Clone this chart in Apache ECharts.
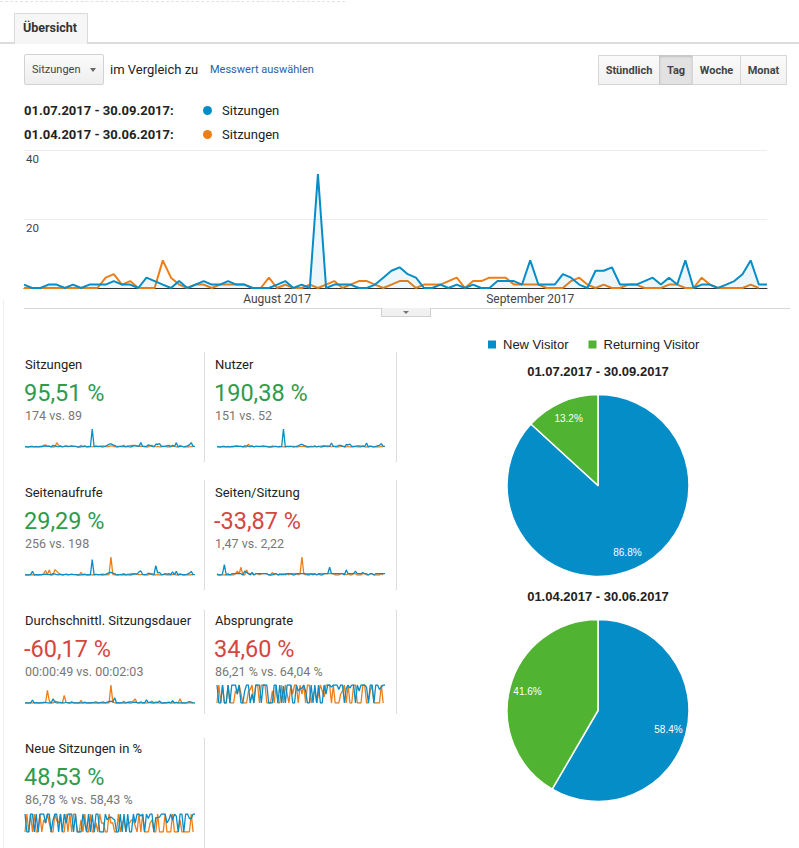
<!DOCTYPE html>
<html><head><meta charset="utf-8">
<script src="https://cdn.jsdelivr.net/npm/echarts@6/dist/echarts.min.js"></script>
<style>
html,body{margin:0;padding:0;background:#fff;}
body{width:799px;height:848px;position:relative;overflow:hidden;font-family:Roboto,'Liberation Sans',Arial,sans-serif;color:#222;}
#chart{position:absolute;left:0;top:0;width:799px;height:848px;}
.a{position:absolute;white-space:nowrap;}
.btn{position:absolute;top:55px;height:30px;line-height:30px;text-align:center;font-size:11px;font-weight:bold;color:#444;background:linear-gradient(#fafafa,#f1f1f1);border:1px solid #d6d6d6;box-sizing:border-box;}
</style></head><body>
<div id="chart"></div>
<div id="ui"></div>
<script>
// ---------- data ----------
const dayCount = 92;
const monthTicks = ['August 2017', 'September 2017'];
const monthTickDays = [31, 62];
const yTicks = [0, 20, 40];

const sessionsCur = [1,0,0,1,1,0,1,0,1,1, 1,2,1,1,0,3,2,1,0,2, 0,1,2,1,1,2,1,1,0,0, 0,1,2,0,1,0,33,0,1,1,
  1,0,0,1,3,5,6,4,3,0, 0,1,0,1,0,1,0,0,2,2, 2,1,8,1,1,1,4,3,1,0, 5,5,6,1,1,1,2,3,1,3, 1,8,0,1,1,0,1,2,4,8, 1,1];
const sessionsPrev = [0,0,0,0,0,0,0,0,0,0, 3,4,1,2,0,0,0,8,3,1, 0,1,1,0,1,1,1,1,0,0, 3,0,1,0,0,1,0,1,2,0,
  1,2,2,1,0,1,2,2,0,1, 1,1,2,3,0,2,2,3,3,3, 1,1,1,1,0,0,0,2,3,1, 0,1,0,0,1,1,0,0,0,1, 1,0,0,3,1,0,0,0,0,1, 0];

const usersCur = [1,0,0,1,1,0,1,0,1,1, 1,1,1,1,0,2,2,1,0,2, 0,1,1,1,1,2,1,1,0,0, 0,1,1,0,1,0,32,0,1,1,
  1,0,0,1,2,4,5,3,2,0, 0,1,0,1,0,1,0,0,2,1, 2,1,7,1,1,1,3,3,1,0, 4,4,5,1,1,1,2,2,1,2, 1,7,0,1,1,0,1,2,3,6, 1,1];
const usersPrev = [0,0,0,0,0,0,0,0,0,0, 2,2,1,1,0,0,0,5,2,1, 0,1,1,0,1,0,1,0,0,0, 2,0,1,0,0,1,0,0,1,0,
  1,1,1,0,0,1,1,1,0,0, 1,0,1,2,0,1,1,2,2,1, 0,1,0,1,0,0,0,1,2,0, 0,1,0,0,0,1,0,0,0,1, 0,0,0,2,0,0,0,0,0,1, 0];

const pageviewsCur = [1,0,0,1,8,0,1,0,1,1, 1,2,1,1,0,3,2,1,0,2, 0,1,2,1,1,2,1,1,0,0, 0,1,2,0,1,0,34,0,1,1,
  1,0,0,1,3,5,6,4,3,0, 0,1,0,1,0,1,0,0,2,2, 2,7,9,1,1,1,4,3,1,0, 21,5,6,1,1,3,2,3,1,7, 1,8,0,1,1,0,1,2,4,8, 1,1];
const pageviewsPrev = [0,0,0,0,0,0,0,0,0,0, 3,10,1,11,0,0,12,8,4,1, 0,1,1,0,1,1,1,1,0,0, 6,0,1,0,0,1,0,1,2,0,
  1,2,2,1,0,1,40,2,0,1, 1,1,2,3,0,2,2,3,3,3, 1,1,1,1,0,0,0,2,3,1, 0,1,0,0,1,1,0,0,0,1, 1,0,0,3,1,0,0,0,0,1, 0];

const pagesPerSessionCur = [1,0,0,1,8,0,1,0,1,1, 1,1,1,1,0,3,2,1,0,2, 0,1,1,1,1,1,1,1,0,0, 0,1,1,0,1,0,1,0,1,1,
  1,0,0,1,1,1,1,1,1,0, 0,1,0,1,0,1,0,0,1,1, 1,6,1,1,1,1,1,1,1,0, 4,1,1,1,1,3,1,1,1,2, 1,1,0,1,1,0,1,1,1,1, 1,1];
const pagesPerSessionPrev = [0,0,0,0,0,0,0,0,0,0, 1,3,1,6,0,0,4,1,1,1, 0,1,1,0,1,1,1,1,0,0, 2,0,1,0,0,1,0,1,1,0,
  1,1,1,1,0,1,14,1,0,1, 1,1,1,1,0,1,1,1,1,1, 1,1,1,1,0,0,0,1,1,1, 0,1,0,0,1,1,0,0,0,1, 1,0,0,1,1,0,0,0,0,1, 0];

const durationCur = [0,0,0,0,200,0,30,0,0,20, 0,40,0,0,0,280,60,0,0,40, 0,0,50,0,0,80,0,0,0,0, 0,0,60,0,0,0,30,0,0,0,
  20,0,0,0,60,90,120,60,350,0, 0,0,0,0,0,30,0,0,40,60, 20,0,80,0,0,210,40,30,0,0, 60,40,140,0,0,0,30,60,0,150, 0,50,0,0,0,0,0,40,100,60, 0,0];
const durationPrev = [0,0,0,0,0,0,0,0,0,0, 60,0,840,150,0,0,120,90,60,0, 0,500,40,0,0,0,30,0,0,0, 180,0,0,0,0,0,0,40,90,0,
  0,60,80,0,0,0,1200,70,0,0, 0,0,40,110,0,60,90,80,120,280, 0,0,0,0,0,0,0,60,120,0, 0,0,0,0,0,0,0,0,0,0, 0,0,0,280,0,0,0,0,0,0, 0];

const bounceCur = [100,0,0,100,0,0,100,0,100,100, 100,50,100,0,0,67,100,100,0,50, 0,100,100,100,0,100,100,100,0,0,
  0,100,100,0,100,0,94,0,100,100, 100,0,0,100,67,80,83,100,67,0, 0,100,0,100,0,100,0,0,100,50,
  100,100,88,100,100,100,75,100,100,0, 80,100,83,100,100,0,100,67,100,100, 100,88,0,100,100,0,100,100,75,88, 100,100];
const bouncePrev = [0,100,0,100,0,0,100,0,0,0, 67,50,100,50,0,0,0,63,75,100, 0,100,100,0,100,100,100,0,0,0,
  67,0,100,0,0,100,0,100,50,0, 100,50,100,100,0,100,50,100,0,100, 100,0,50,67,0,50,100,67,33,100,
  100,100,0,100,0,0,0,50,67,100, 0,100,0,0,100,100,0,0,0,100, 100,0,0,67,100,0,0,0,0,100, 0];

const newSessCur = [100,0,0,100,100,0,100,0,100,100, 100,50,100,100,0,67,100,100,0,100, 0,100,50,100,100,100,0,100,0,0,
  0,100,50,0,100,0,97,0,100,100, 0,0,0,100,67,80,83,75,67,0, 0,100,0,100,0,100,0,0,100,50,
  100,100,88,100,0,100,75,100,100,0, 80,80,83,100,100,100,50,67,100,67, 100,88,0,100,100,0,100,100,75,75, 100,100];
const newSessPrev = [0,100,0,100,0,100,0,0,100,0, 67,50,100,50,0,0,100,63,50,100, 0,0,100,0,100,0,100,100,0,0,
  67,0,100,0,0,100,0,0,50,0, 100,50,50,0,0,100,50,50,0,0, 100,0,50,67,0,50,50,67,67,33,
  0,100,0,100,0,0,0,50,67,0, 0,100,0,0,0,100,0,0,0,100, 0,0,0,67,0,0,0,0,0,100, 0];

const pieNames = ['New Visitor', 'Returning Visitor'];
const pieCur = [86.8, 13.2];
const piePrev = [58.4, 41.6];
const periodLabels = ['01.07.2017 - 30.09.2017', '01.04.2017 - 30.06.2017'];

const kpiTitles = ['Sitzungen','Nutzer','Seitenaufrufe','Seiten/Sitzung','Durchschnittl. Sitzungsdauer','Absprungrate','Neue Sitzungen in %'];
const kpiChanges = ['95,51 %','190,38 %','29,29 %','-33,87 %','-60,17 %','34,60 %','48,53 %'];
const kpiPositive = [true,true,true,false,false,false,true];
const kpiCompare = ['174 vs. 89','151 vs. 52','256 vs. 198','1,47 vs. 2,22','00:00:49 vs. 00:02:03','86,21 % vs. 64,04 %','86,78 % vs. 58,43 %'];
const kpiSeries = [[sessionsCur,sessionsPrev],[usersCur,usersPrev],[pageviewsCur,pageviewsPrev],[pagesPerSessionCur,pagesPerSessionPrev],
  [durationCur,durationPrev],[bounceCur,bouncePrev],[newSessCur,newSessPrev]];

// ---------- colors ----------
const BLUE = '#058dc7', ORANGE = '#ed7e17', GREEN = '#50b432';

// ---------- categories ----------
const days = [];
for (let i = 0; i < dayCount; i++) {
  const d = new Date(Date.UTC(2017, 6, 1 + i));
  days.push(String(d.getUTCDate()).padStart(2,'0') + '.' + String(d.getUTCMonth()+1).padStart(2,'0') + '.2017');
}

// ---------- HTML chrome ----------
const ui = document.getElementById('ui');
let h = '';
h += '<div class="a" style="left:0;top:1px;width:345px;border-top:1px dashed #e2e2e2;"></div>';
h += '<div class="a" style="left:0;top:42px;width:799px;height:2px;background:#dcdcdc;"></div>';
h += '<div class="a" style="left:14px;top:13px;width:72px;height:30px;background:#f6f6f6;border:1px solid #dadada;border-bottom:none;"></div>';
h += '<div class="a" style="left:23px;top:20px;line-height:16px;font-size:12.5px;font-weight:bold;color:#333;">Übersicht</div>';
h += '<div class="a" style="left:24px;top:54px;width:80px;height:31px;border:1px solid #d2d2d2;border-radius:2px;background:linear-gradient(#fbfbfb,#eeeeee);box-sizing:border-box;"></div>';
h += '<div class="a" style="left:32px;top:62px;line-height:16px;font-size:11px;color:#444;">Sitzungen</div>';
h += '<div class="a" style="left:90px;top:68px;width:0;height:0;border-left:3.5px solid transparent;border-right:3.5px solid transparent;border-top:4px solid #666;"></div>';
h += '<div class="a" style="left:110px;top:61px;line-height:18px;font-size:13px;color:#222;">im Vergleich zu</div>';
h += '<div class="a" style="left:210px;top:62px;line-height:16px;font-size:11px;color:#2a5ea8;">Messwert auswählen</div>';
const btns = [['Stündlich',598,62,false],['Tag',659,34,true],['Woche',692,49,false],['Monat',740,47,false]];
btns.forEach(b => {
  h += '<div class="btn" style="left:'+b[1]+'px;width:'+b[2]+'px;'+(b[3]?'background:#e2e2e2;border-color:#c8c8c8;box-shadow:inset 0 1px 2px rgba(0,0,0,0.15);':'')+'">'+b[0]+'</div>';
});
// legend rows
[[periodLabels[0], BLUE, 111],[periodLabels[1], ORANGE, 135]].forEach(r => {
  h += '<div class="a" style="left:24px;top:'+(r[2]-9)+'px;line-height:18px;font-size:13px;font-weight:bold;color:#222;">'+r[0]+':</div>';
  h += '<div class="a" style="left:203px;top:'+(r[2]-5)+'px;width:9px;height:9px;border-radius:50%;background:'+r[1]+';"></div>';
  h += '<div class="a" style="left:222px;top:'+(r[2]-9)+'px;line-height:18px;font-size:13px;color:#222;">Sitzungen</div>';
});
// chart bottom line + handle
h += '<div class="a" style="left:24px;top:308px;width:766px;height:1px;background:#d6d6d6;"></div>';
h += '<div class="a" style="left:381px;top:308px;width:50px;height:9px;background:#f1f1f1;border:1px solid #cfcfcf;border-top:none;box-sizing:border-box;"></div>';
h += '<div class="a" style="left:403px;top:311px;width:0;height:0;border-left:3px solid transparent;border-right:3px solid transparent;border-top:3px solid #777;"></div>';
h += '<div class="a" style="left:3px;top:300px;width:1px;height:548px;background:#eeeeee;"></div>';
// KPI blocks
const colX = [25, 215];
const rowY = [365, 493, 621, 749];
kpiTitles.forEach((t, i) => {
  const x = colX[i % 2], y = rowY[Math.floor(i / 2)];
  h += '<div class="a" style="left:'+x+'px;top:'+(y-9)+'px;line-height:18px;font-size:13px;color:#222;">'+t+'</div>';
  h += '<div class="a" style="left:'+(x-1)+'px;top:'+(y+28-15)+'px;line-height:30px;font-size:23.5px;color:'+(kpiPositive[i]?'#2f9b4c':'#d3473f')+';">'+kpiChanges[i]+'</div>';
  h += '<div class="a" style="left:'+x+'px;top:'+(y+51-9)+'px;line-height:18px;font-size:12.5px;color:#777;">'+kpiCompare[i]+'</div>';
});
// separators
[[204,352,462],[396,352,462],[204,480,590],[396,480,590],[204,610,714],[396,610,714],[204,738,848]].forEach(s => {
  h += '<div class="a" style="left:'+s[0]+'px;top:'+s[1]+'px;width:1px;height:'+(s[2]-s[1])+'px;background:#dddddd;"></div>';
});
// pie titles
[[periodLabels[0],372],[periodLabels[1],597]].forEach(p => {
  h += '<div class="a" style="left:598px;top:'+(p[1]-9)+'px;line-height:18px;transform:translateX(-50%);font-family:\'Liberation Sans\',Arial,sans-serif;font-size:13px;font-weight:bold;color:#222;">'+p[0]+'</div>';
});
ui.innerHTML = h;

// ---------- ECharts ----------
const chart = echarts.init(document.getElementById('chart'), null, {renderer: 'svg', width: 799, height: 848});

const grids = [{left: 24, top: 150, width: 743, height: 138}];
const xAxes = [{
  type: 'category', gridIndex: 0, data: days, boundaryGap: false,
  axisLine: {lineStyle: {color: '#333', width: 1}}, axisTick: {show: false},
  axisLabel: {
    interval: (idx) => monthTickDays.indexOf(idx) >= 0,
    formatter: (v, idx) => monthTicks[monthTickDays.indexOf(idx)] || '',
    color: '#444', fontSize: 12, margin: 5, fontFamily: 'Roboto'
  }
}];
const yAxes = [{
  type: 'value', gridIndex: 0, min: yTicks[0], max: yTicks[yTicks.length-1], interval: yTicks[1]-yTicks[0],
  axisLine: {show: false}, axisTick: {show: false},
  splitLine: {lineStyle: {color: '#ececec', width: 1}},
  axisLabel: {inside: true, margin: 2, verticalAlign: 'top', padding: [3,0,0,0], color: '#444', fontSize: 11.5, fontFamily: 'Roboto',
    formatter: (v) => v === 0 ? '' : String(v)}
}];
const series = [
  {type: 'line', name: 'Sitzungen (Vorperiode)', xAxisIndex: 0, yAxisIndex: 0, data: sessionsPrev, symbol: 'none', z: 2,
   lineStyle: {color: ORANGE, width: 2}, itemStyle: {color: ORANGE}, silent: true},
  {type: 'line', name: 'Sitzungen', xAxisIndex: 0, yAxisIndex: 0, data: sessionsCur, symbol: 'none', z: 3,
   lineStyle: {color: BLUE, width: 2}, itemStyle: {color: BLUE}, areaStyle: {color: 'rgba(5,141,199,0.1)'}, silent: true}
];

const sparkBase = [447, 575, 703, 832];
const sparkLeft = [25, 217];
const sparkWidth = [170, 168];
kpiSeries.forEach((pair, i) => {
  const col = i % 2, row = Math.floor(i / 2);
  const gi = grids.length;
  grids.push({left: sparkLeft[col], top: sparkBase[row] - 18, width: sparkWidth[col], height: 18});
  xAxes.push({type: 'category', gridIndex: gi, data: days, boundaryGap: false, show: false});
  yAxes.push({type: 'value', gridIndex: gi, min: 0, max: 'dataMax', show: false, splitLine: {show: false}});
  series.push({type: 'line', xAxisIndex: gi, yAxisIndex: gi, data: pair[1], symbol: 'none', silent: true, z: 2,
    lineStyle: {color: ORANGE, width: 1.3}});
  series.push({type: 'line', xAxisIndex: gi, yAxisIndex: gi, data: pair[0], symbol: 'none', silent: true, z: 3,
    lineStyle: {color: BLUE, width: 1.3}});
});

function pieData(vals) {
  return vals.map((v, i) => ({name: pieNames[i], value: v, itemStyle: {color: i === 0 ? BLUE : GREEN}}));
}
function pieLabelData(vals) {
  return vals.map((v, i) => ({name: pieNames[i], value: v}));
}
[[pieCur, 485.5], [piePrev, 710.5]].forEach(p => {
  series.push({type: 'pie', center: [598, p[1]], radius: [0, 91], startAngle: 90, clockwise: true,
    data: pieData(p[0]), label: {show: false}, labelLine: {show: false}, silent: true,
    itemStyle: {borderColor: '#fff', borderWidth: 1.5}, emphasis: {disabled: true}});
  series.push({type: 'pie', center: [598, p[1]], radius: [49, 91], startAngle: 90, clockwise: true,
    data: pieLabelData(p[0]), percentPrecision: 1, silent: true, emphasis: {disabled: true},
    itemStyle: {color: 'rgba(0,0,0,0)', borderWidth: 0}, labelLine: {show: false},
    label: {show: true, position: 'inside', formatter: '{d}%', color: '#fff', fontSize: 10, fontFamily: 'Liberation Sans'}});
});

chart.setOption({
  animation: false,
  textStyle: {fontFamily: 'Roboto'},
  grid: grids, xAxis: xAxes, yAxis: yAxes,
  legend: {
    left: 486, top: 338, padding: 0, itemWidth: 10, itemHeight: 10, itemGap: 18, icon: 'rect',
    textStyle: {fontFamily: 'Liberation Sans', fontSize: 13, color: '#222', padding: [0,0,0,1]},
    selectedMode: false,
    data: [{name: pieNames[0], itemStyle: {color: BLUE}}, {name: pieNames[1], itemStyle: {color: GREEN}}]
  },
  series: series
});
</script>
</body></html>
